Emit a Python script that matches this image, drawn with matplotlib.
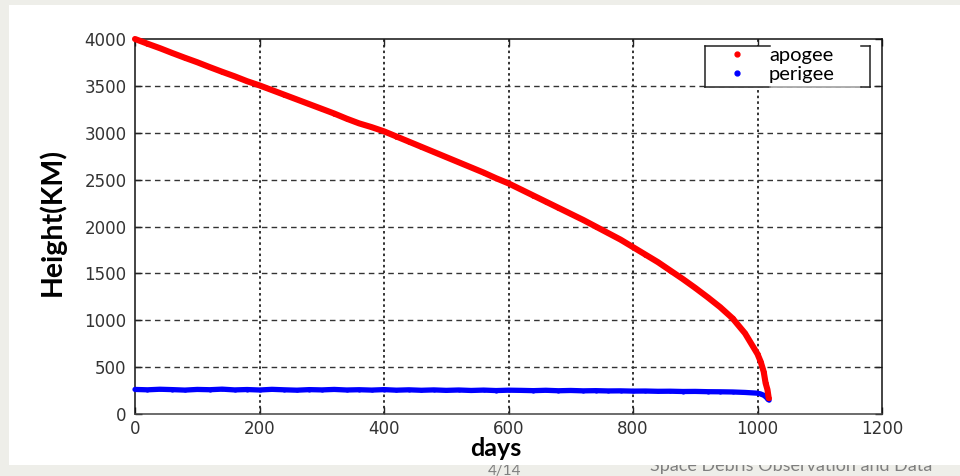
import matplotlib
matplotlib.use("Agg")
import matplotlib.pyplot as plt
from matplotlib.patches import Rectangle
from matplotlib.lines import Line2D

days = [0, 20, 40, 60, 80, 100, 120, 140, 160, 180, 200, 220, 240, 260, 280, 300,
        320, 340, 360, 380, 400, 420, 440, 460, 480, 500, 520, 540, 560, 580, 600,
        620, 640, 660, 680, 700, 720, 740, 760, 780, 800, 820, 840, 860, 880, 900,
        920, 940, 960, 980, 1000, 1005, 1010, 1013, 1016, 1018]
apogee = [4000, 3950, 3902, 3850, 3800, 3752, 3700, 3650, 3602, 3550, 3505, 3455,
          3405, 3355, 3305, 3255, 3205, 3150, 3100, 3060, 3015, 2960, 2905, 2850,
          2795, 2740, 2685, 2630, 2575, 2515, 2460, 2395, 2330, 2265, 2200, 2135,
          2070, 2000, 1930, 1860, 1780, 1700, 1620, 1530, 1440, 1345, 1245, 1140,
          1020, 860, 640, 560, 450, 330, 260, 170]
perigee = [262, 258, 264, 260, 255, 262, 259, 265, 257, 261, 256, 263, 258, 254,
           260, 257, 262, 256, 259, 255, 260, 254, 258, 253, 257, 252, 256, 251,
           255, 250, 254, 252, 249, 253, 248, 251, 247, 249, 246, 247, 244, 245,
           242, 243, 240, 241, 238, 237, 235, 230, 222, 214, 200, 185, 165, 150]

x_ticks = [0, 200, 400, 600, 800, 1000, 1200]
y_ticks = [0, 500, 1000, 1500, 2000, 2500, 3000, 3500, 4000]
legend_labels = ["apogee", "perigee"]
x_label = "days"
y_label = "Height(KM)"
footer_page = "4/14"
footer_title = "Space Debris Observation and Data"

W, H = 960, 476
fig = plt.figure(figsize=(W / 100, H / 100), dpi=100)
fig.patch.set_facecolor("#eeeee9")

def fx(px):
    return px / W

def fy(py):
    return 1 - py / H

# footer text (partly hidden behind slide content box)
fig.text(fx(505), fy(474.5), footer_page, ha="center", va="baseline",
         fontsize=11, color="#7f7f7f", family="Lato", zorder=0)
fig.text(fx(650), fy(471.5), footer_title, ha="left", va="baseline",
         fontsize=13, color="#7f7f7f", family="Lato", zorder=0)

# white content box
fig.patches.append(Rectangle((fx(9), fy(465)), fx(960) - fx(9), fy(5) - fy(465),
                             transform=fig.transFigure, facecolor="white",
                             edgecolor="none", zorder=0.5))

L, R, T, B = 135, 882, 39, 414
ax = fig.add_axes([fx(L), fy(B), fx(R) - fx(L), fy(T) - fy(B)])
ax.set_zorder(1)
ax.patch.set_facecolor("white")

ax.plot(days, perigee, color="#0000ff", lw=3.8, marker="o", ms=3.0, mew=0,
        solid_capstyle="round", solid_joinstyle="round", zorder=3, clip_on=False)
ax.plot(days, apogee, color="#ff0000", lw=4.4, marker="o", ms=3.4, mew=0,
        solid_capstyle="round", solid_joinstyle="round", zorder=3, clip_on=False)

ax.set_xlim(0, 1200)
ax.set_ylim(0, 4000)
ax.set_xticks(x_ticks)
ax.set_yticks(y_ticks)
ax.set_xticklabels([str(t) for t in x_ticks], family="DejaVu Sans")
ax.set_yticklabels([str(t) for t in y_ticks], family="DejaVu Sans")

for t in y_ticks[1:-1]:
    ax.axhline(t, color="#333333", lw=1.0, ls=(0, (4, 3)), zorder=1)
for t in x_ticks[1:-1]:
    ax.axvline(t, color="#333333", lw=1.4, ls=(0, (1.3, 1.6)), zorder=1)

for s in ax.spines.values():
    s.set_color("#111111")
    s.set_linewidth(1.1)
ax.spines["bottom"].set_color("#444444")

ax.tick_params(direction="in", length=5, width=1, top=True, right=True,
               labelsize=12, labelcolor="#333333", colors="#222222")
ax.tick_params(axis="y", pad=6)
ax.tick_params(axis="x", pad=4)

fig.text(fx(52), fy(222), y_label, rotation=90, ha="center", va="center",
         fontsize=20.5, fontweight="bold", family="Lato", color="black", zorder=3)
fig.text(fx(496), fy(456.5), x_label, ha="center", va="baseline",
         fontsize=18, fontweight="bold", family="Lato", color="black", zorder=3)

# legend frame
lx0, lx1, ly0, ly1 = 705, 870, 46, 87
fig.patches.append(Rectangle((fx(lx0), fy(ly1)), fx(lx1) - fx(lx0), fy(ly0) - fy(ly1),
                             transform=fig.transFigure, facecolor="white",
                             edgecolor="none", zorder=2))
frame = [((lx0, lx0), (ly0, ly1), "#222222"),
         ((lx0, 770), (ly0, ly0), "#222222"),
         ((lx0, 770), (ly1, ly1), "#222222"),
         ((770, 861), (ly1, ly1), "#999999"),
         ((861, lx1), (ly0, ly0), "#222222"),
         ((861, lx1), (ly1, ly1), "#222222"),
         ((lx1, lx1), (ly0, ly1), "#222222")]
for xs, ys, c in frame:
    fig.lines.append(Line2D([fx(v) for v in xs], [fy(v) for v in ys],
                            transform=fig.transFigure, color=c, lw=1.1, zorder=2.5))

handles = [Line2D([], [], ls="none", marker="o", ms=3.5, color="#ff0000"),
           Line2D([], [], ls="none", marker="o", ms=3.5, color="#0000ff")]
fs_leg = 14.5
fs_px = fs_leg * 100 / 72
leg = fig.legend(handles, legend_labels, loc="upper left",
                 bbox_to_anchor=(fx(720), fy(47)), bbox_transform=fig.transFigure,
                 frameon=False, borderpad=0, borderaxespad=0,
                 handlelength=34 / fs_px, handletextpad=15 / fs_px, labelspacing=0.1,
                 prop={"family": "Lato", "size": fs_leg})
leg.set_zorder(3)

fig.savefig("out.png", dpi=100, facecolor=fig.get_facecolor())
